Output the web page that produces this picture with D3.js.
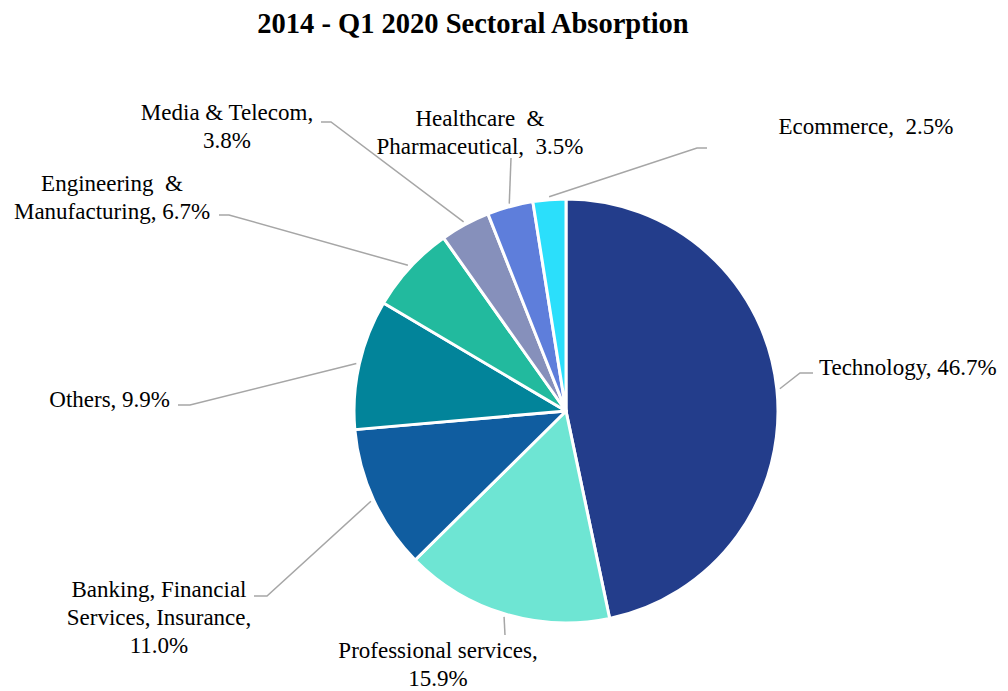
<!DOCTYPE html>
<html lang="en">
<head>
    <meta charset="UTF-8">
    <title>Sectoral Absorption</title>
    <style>
        body {
            margin: 0;
            padding: 0;
            background-color: #ffffff;
        }
        .leader {
            fill: none;
            stroke: #a6a6a6;
            stroke-width: 1.5px;
        }
    </style>
</head>
<body>
    <svg id="pie_chart"></svg>

    <script src="https://d3js.org/d3.v7.min.js"></script>
    <script>
        // Data (percent share, clockwise from 12 o'clock)
        var sectors = ['Technology', 'Professional services', 'Banking, Financial Services, Insurance', 'Others',
            'Engineering & Manufacturing', 'Media & Telecom', 'Healthcare & Pharmaceutical', 'Ecommerce'];
        var shares = [46.7, 15.9, 11.0, 9.9, 6.7, 3.8, 3.5, 2.5];
        var colors = ['#233d8b', '#6ee5d3', '#105da0', '#02849a', '#22ba9e', '#8690bb', '#5e7edb', '#2bdffb'];

        // How each data label breaks into lines
        var labelLines = [
            ['Technology, 46.7%'],
            ['Professional services,', '15.9%'],
            ['Banking, Financial', 'Services, Insurance,', '11.0%'],
            ['Others, 9.9%'],
            ['Engineering  &', 'Manufacturing, 6.7%'],
            ['Media & Telecom,', '3.8%'],
            ['Healthcare  &', 'Pharmaceutical,  3.5%'],
            ['Ecommerce,  2.5%']
        ];

        // Label layout: elbow point, line end, and text anchor (x, first baseline)
        var labelLayout = [
            { elbow: [800, 373], end: [813, 373], tx: 819, ty: 375, anchor: 'start' },
            { elbow: [505, 635], end: [505, 635], tx: 438, ty: 658, anchor: 'middle' },
            { elbow: [267, 596], end: [254, 596], tx: 159, ty: 597, anchor: 'middle' },
            { elbow: [190, 405], end: [178, 405], tx: 170, ty: 407, anchor: 'end' },
            { elbow: [229, 215], end: [219, 215], tx: 112, ty: 191, anchor: 'middle' },
            { elbow: [331, 122], end: [321, 122], tx: 227, ty: 120, anchor: 'middle' },
            { elbow: [511, 158], end: [511, 158], tx: 480, ty: 126, anchor: 'middle' },
            { elbow: [697, 148], end: [707, 148], tx: 866, ty: 134, anchor: 'middle' }
        ];

        var serif = "'Liberation Serif', 'Times New Roman', Times, serif";
        var width = 1008;
        var height = 691;
        var cx = 566, cy = 411, radius = 212;
        var lineHeight = 28;

        var svg = d3.select('#pie_chart')
            .attr('width', width)
            .attr('height', height);

        svg.append('text')
            .attr('x', 473)
            .attr('y', 33)
            .style('font-family', serif)
            .style('font-weight', 'bold')
            .style('font-size', '28.5px')
            .style('text-anchor', 'middle')
            .text('2014 - Q1 2020 Sectoral Absorption');

        var pie = d3.pie().sort(null).value(d => d);
        var arcs = pie(shares);

        var arc = d3.arc().innerRadius(0).outerRadius(radius);
        var outer = d3.arc().innerRadius(radius + 3).outerRadius(radius + 3);

        var g = svg.append('g')
            .attr('transform', 'translate(' + cx + ',' + cy + ')');

        g.selectAll('path.slice')
            .data(arcs)
            .enter()
            .append('path')
            .attr('class', 'slice')
            .attr('d', arc)
            .style('fill', (d, i) => colors[i])
            .style('stroke', '#ffffff')
            .style('stroke-width', 3)
            .style('stroke-linejoin', 'round');

        // Leader lines from the slice edge to the label
        svg.selectAll('polyline.leader')
            .data(arcs)
            .enter()
            .append('polyline')
            .attr('class', 'leader')
            .attr('points', function(d, i) {
                var c = outer.centroid(d);
                var p0 = [cx + c[0], cy + c[1]];
                var l = labelLayout[i];
                return [p0, l.elbow, l.end].map(p => p.join(',')).join(' ');
            });

        // Data labels
        var labels = svg.selectAll('text.label')
            .data(arcs)
            .enter()
            .append('text')
            .attr('class', 'label')
            .attr('x', (d, i) => labelLayout[i].tx)
            .attr('y', (d, i) => labelLayout[i].ty)
            .style('font-family', serif)
            .style('font-size', '23px')
            .style('fill', '#000')
            .style('text-anchor', (d, i) => labelLayout[i].anchor)
            .style('white-space', 'pre');

        labels.each(function(d, i) {
            var t = d3.select(this);
            labelLines[i].forEach(function(line, j) {
                t.append('tspan')
                    .attr('x', labelLayout[i].tx)
                    .attr('dy', j === 0 ? 0 : lineHeight)
                    .text(line);
            });
        });
    </script>
</body>
</html>
